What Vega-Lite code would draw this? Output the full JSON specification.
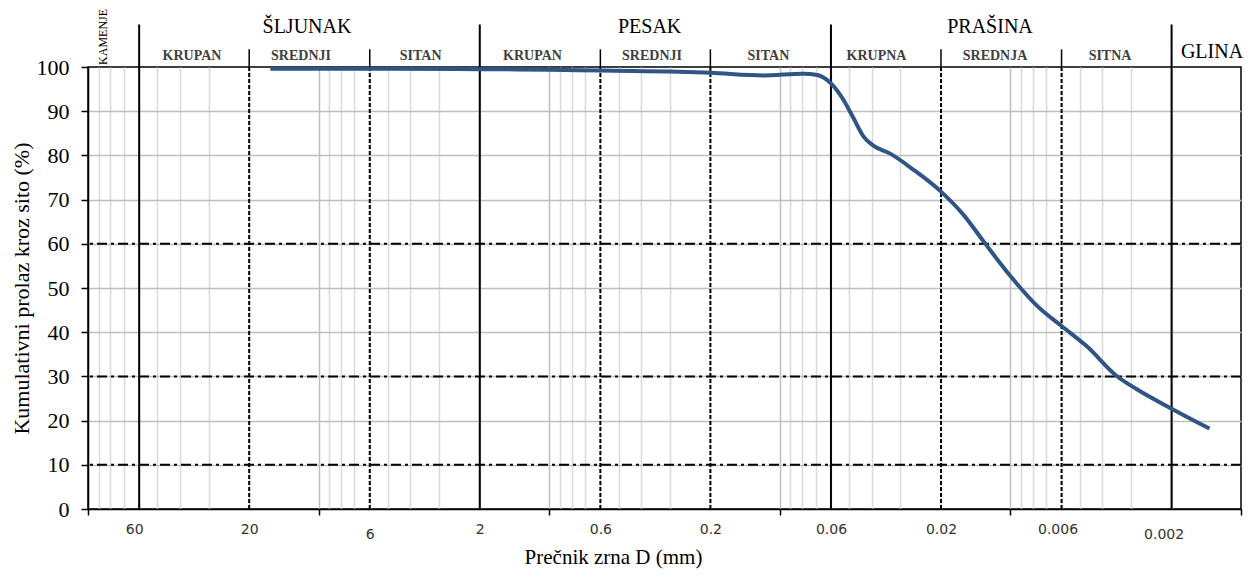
{
  "$schema": "https://vega.github.io/schema/vega-lite/v6.json",
  "width": 1153,
  "height": 442,
  "autosize": {"type": "none"},
  "padding": {"left": 88, "top": 67, "right": 14, "bottom": 67},
  "background": "white",
  "config": {
    "view": {"stroke": "#000000", "strokeWidth": 1.5},
    "axisY": {"labelFont": "Liberation Serif", "labelFontSize": 22, "labelColor": "#000000", "labelPadding": 12, "tickSize": 7, "tickWidth": 1.5, "tickColor": "#000000", "domainColor": "#000000", "domainWidth": 1.5, "gridWidth": 1.5},
    "axisX": {"labelFont": "DejaVu Sans", "labelFontSize": 14, "labelColor": "#333333", "tickSize": 6, "tickWidth": 1.5, "tickColor": "#000000", "domainColor": "#000000", "domainWidth": 1.5, "gridWidth": 1.5}
  },
  "datasets": {
    "curve": [
      {"d": 16.2, "p": 99.6}, {"d": 10, "p": 99.6}, {"d": 5, "p": 99.6}, {"d": 2, "p": 99.5},
      {"d": 1, "p": 99.4}, {"d": 0.6, "p": 99.2}, {"d": 0.2, "p": 98.7}, {"d": 0.118, "p": 98.1},
      {"d": 0.0791, "p": 98.5}, {"d": 0.0688, "p": 98.2}, {"d": 0.06, "p": 96.3}, {"d": 0.053, "p": 92.6},
      {"d": 0.048, "p": 88.5}, {"d": 0.0434, "p": 84.3}, {"d": 0.0393, "p": 82.2}, {"d": 0.0332, "p": 80.4},
      {"d": 0.0264, "p": 76.8}, {"d": 0.02, "p": 71.8}, {"d": 0.016, "p": 66.6}, {"d": 0.0131, "p": 60.6},
      {"d": 0.01, "p": 52.7}, {"d": 0.00764, "p": 45.9}, {"d": 0.006, "p": 41.4}, {"d": 0.00466, "p": 36.8},
      {"d": 0.00346, "p": 30.1}, {"d": 0.00283, "p": 27.1}, {"d": 0.002, "p": 22.7}, {"d": 0.00137, "p": 18.2}
    ],
    "levels": [{"p": 10}, {"p": 30}, {"p": 60}],
    "bounds": [
      {"d": 60, "kind": "major"}, {"d": 2, "kind": "major"}, {"d": 0.06, "kind": "major"}, {"d": 0.002, "kind": "major"},
      {"d": 20, "kind": "sub"}, {"d": 6, "kind": "sub"}, {"d": 0.6, "kind": "sub"}, {"d": 0.2, "kind": "sub"},
      {"d": 0.02, "kind": "sub"}, {"d": 0.006, "kind": "sub"}
    ],
    "groups": [
      {"name": "ŠLJUNAK", "d": 11.23}, {"name": "PESAK", "d": 0.367}, {"name": "PRAŠINA", "d": 0.01226}
    ],
    "subs": [
      {"name": "KRUPAN", "d": 35.4}, {"name": "SREDNJI", "d": 11.92}, {"name": "SITAN", "d": 3.61},
      {"name": "KRUPAN", "d": 1.182}, {"name": "SREDNJI", "d": 0.3583}, {"name": "SITAN", "d": 0.112},
      {"name": "KRUPNA", "d": 0.03807}, {"name": "SREDNJA", "d": 0.01166}, {"name": "SITNA", "d": 0.003698}
    ],
    "clay": [{"name": "GLINA", "d": 0.001336}],
    "rock": [{"name": "KAMENJE", "d": 86.5}]
  },
  "layer": [
    {
      "data": {"name": "curve"},
      "mark": {"type": "line", "color": "#2f5584", "strokeWidth": 4, "interpolate": "monotone", "opacity": 0},
      "encoding": {
        "x": {
          "field": "d", "type": "quantitative",
          "scale": {"type": "log", "domain": [0.001, 100], "reverse": true, "nice": false},
          "axis": {
            "title": "Prečnik zrna D (mm)",
            "values": [100, 90, 80, 70, 60, 50, 40, 30, 20, 10, 9, 8, 7, 6, 5, 4, 3, 2, 1, 0.9, 0.8, 0.7, 0.6, 0.5, 0.4, 0.3, 0.2, 0.1, 0.09, 0.08, 0.07, 0.06, 0.05, 0.04, 0.03, 0.02, 0.01, 0.009, 0.008, 0.007, 0.006, 0.005, 0.004, 0.003, 0.002, 0.001],
            "grid": true,
            "gridColor": {"condition": {"test": "indexof([100,10,1,0.1,0.01,0.001], datum.value) >= 0", "value": "#bfbfbf"}, "value": "#d9d9d9"},
            "gridOpacity": {"condition": {"test": "datum.value == 100 || datum.value == 0.001", "value": 0}, "value": 1},
            "tickOpacity": {"condition": {"test": "indexof([100,10,1,0.1,0.01,0.001], datum.value) >= 0", "value": 1}, "value": 0},
            "labelExpr": "indexof([60,20,6,2,0.6,0.2,0.06,0.02,0.006,0.002], datum.value) >= 0 ? format(datum.value, '~g') : ''",
            "labelPadding": {"condition": {"test": "datum.value == 6 || datum.value == 0.002", "value": 12}, "value": 7},
            "labelOffset": {"condition": [{"test": "datum.value == 60", "value": -5}, {"test": "datum.value == 0.002", "value": -8}, {"test": "datum.value == 0.006", "value": -4}], "value": 0},
            "labelOverlap": false, "labelFlush": false, "labelBound": false,
            "titleFont": "Liberation Serif", "titleFontSize": 21, "titleFontWeight": "normal", "titleColor": "#000000",
            "titleX": 525, "titleY": 48, "titleBaseline": "middle", "titleAlign": "center"
          }
        },
        "y": {
          "field": "p", "type": "quantitative",
          "scale": {"domain": [0, 100], "nice": false, "zero": false},
          "axis": {
            "title": "Kumulativni prolaz kroz sito  (%)",
            "values": [0, 5, 10, 15, 20, 25, 30, 35, 40, 45, 50, 55, 60, 65, 70, 75, 80, 85, 90, 95, 100],
            "grid": true,
            "gridColor": {"condition": {"test": "datum.value % 10 === 0", "value": "#bfbfbf"}, "value": "#d9d9d9"},
            "gridOpacity": {"condition": {"test": "datum.value == 0 || datum.value == 100", "value": 0}, "value": 1},
            "tickOpacity": {"condition": {"test": "datum.value % 10 === 0", "value": 1}, "value": 0},
            "labelExpr": "datum.value % 10 === 0 ? datum.label : ''",
            "labelOverlap": false, "labelFlush": false, "labelBound": false,
            "titleFont": "Liberation Serif", "titleFontSize": 22, "titleFontWeight": "normal", "titleColor": "#000000",
            "titleX": -67, "titleY": 221, "titleBaseline": "middle", "titleAlign": "center", "titleAngle": 270
          }
        }
      }
    },
    {
      "data": {"name": "levels"},
      "mark": {"type": "rule", "color": "#000000", "strokeWidth": 2, "strokeDash": [10, 4, 3, 4]},
      "encoding": {
        "y": {"field": "p", "type": "quantitative", "scale": {"domain": [0, 100], "nice": false, "zero": false}}
      }
    },
    {
      "data": {"name": "bounds"},
      "transform": [{"filter": "datum.kind == 'sub'"}],
      "mark": {"type": "rule", "color": "#000000", "strokeWidth": 2, "strokeDash": [4, 2]},
      "encoding": {
        "x": {"field": "d", "type": "quantitative", "scale": {"type": "log", "domain": [0.001, 100], "reverse": true, "nice": false}},
        "y": {"datum": 0, "type": "quantitative", "scale": {"domain": [0, 100], "nice": false, "zero": false}},
        "y2": {"datum": 100}
      }
    },
    {
      "data": {"name": "bounds"},
      "transform": [{"filter": "datum.kind == 'sub'"}],
      "mark": {"type": "rule", "color": "#000000", "strokeWidth": 1.5},
      "encoding": {
        "x": {"field": "d", "type": "quantitative", "scale": {"type": "log", "domain": [0.001, 100], "reverse": true, "nice": false}},
        "y": {"datum": 100, "type": "quantitative", "scale": {"domain": [0, 100], "nice": false, "zero": false}},
        "y2": {"datum": 104}
      }
    },
    {
      "data": {"name": "bounds"},
      "transform": [{"filter": "datum.kind == 'major'"}],
      "mark": {"type": "rule", "color": "#000000", "strokeWidth": 2},
      "encoding": {
        "x": {"field": "d", "type": "quantitative", "scale": {"type": "log", "domain": [0.001, 100], "reverse": true, "nice": false}},
        "y": {"datum": 0, "type": "quantitative", "scale": {"domain": [0, 100], "nice": false, "zero": false}},
        "y2": {"datum": 109.6}
      }
    },
    {
      "data": {"name": "curve"},
      "mark": {"type": "line", "color": "#2f5584", "strokeWidth": 4, "interpolate": "monotone"},
      "encoding": {
        "x": {"field": "d", "type": "quantitative", "scale": {"type": "log", "domain": [0.001, 100], "reverse": true, "nice": false}},
        "y": {"field": "p", "type": "quantitative", "scale": {"domain": [0, 100], "nice": false, "zero": false}}
      }
    },
    {
      "data": {"name": "groups"},
      "mark": {"type": "text", "font": "Liberation Serif", "fontSize": 20, "color": "#000000", "align": "center", "baseline": "alphabetic"},
      "encoding": {
        "x": {"field": "d", "type": "quantitative", "scale": {"type": "log", "domain": [0.001, 100], "reverse": true, "nice": false}},
        "y": {"datum": 107.6, "type": "quantitative", "scale": {"domain": [0, 100], "nice": false, "zero": false}},
        "text": {"field": "name"}
      }
    },
    {
      "data": {"name": "clay"},
      "mark": {"type": "text", "font": "Liberation Serif", "fontSize": 20, "color": "#000000", "align": "center", "baseline": "alphabetic"},
      "encoding": {
        "x": {"field": "d", "type": "quantitative", "scale": {"type": "log", "domain": [0.001, 100], "reverse": true, "nice": false}},
        "y": {"datum": 102.1, "type": "quantitative", "scale": {"domain": [0, 100], "nice": false, "zero": false}},
        "text": {"field": "name"}
      }
    },
    {
      "data": {"name": "subs"},
      "mark": {"type": "text", "font": "Liberation Serif", "fontSize": 14, "fontWeight": "bold", "color": "#404040", "align": "center", "baseline": "alphabetic"},
      "encoding": {
        "x": {"field": "d", "type": "quantitative", "scale": {"type": "log", "domain": [0.001, 100], "reverse": true, "nice": false}},
        "y": {"datum": 101.5, "type": "quantitative", "scale": {"domain": [0, 100], "nice": false, "zero": false}},
        "text": {"field": "name"}
      }
    },
    {
      "data": {"name": "rock"},
      "mark": {"type": "text", "font": "Liberation Serif", "fontSize": 12, "color": "#000000", "align": "center", "baseline": "middle", "angle": 270},
      "encoding": {
        "x": {"field": "d", "type": "quantitative", "scale": {"type": "log", "domain": [0.001, 100], "reverse": true, "nice": false}},
        "y": {"datum": 106.8, "type": "quantitative", "scale": {"domain": [0, 100], "nice": false, "zero": false}},
        "text": {"field": "name"}
      }
    }
  ]
}
